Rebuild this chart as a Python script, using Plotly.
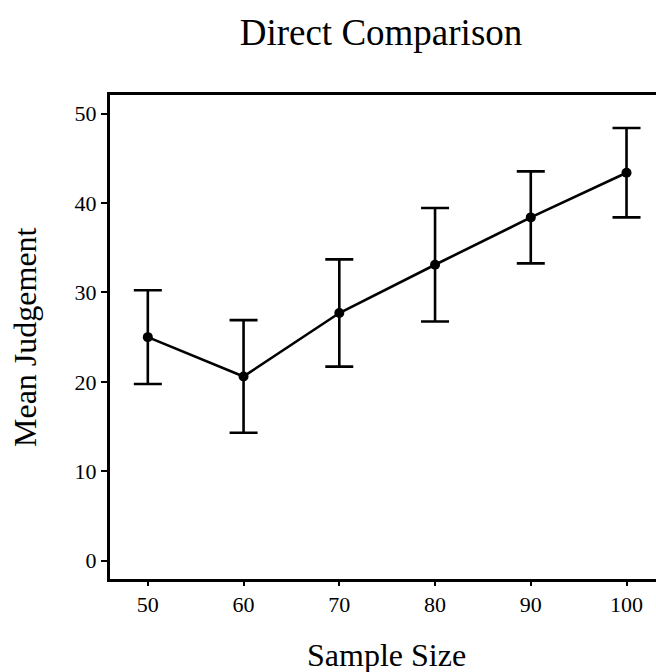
import plotly.graph_objects as go

sample_size = [50, 60, 70, 80, 90, 100]
mean_judgement = [25.0, 20.6, 27.7, 33.1, 38.4, 43.4]
error = [5.25, 6.3, 6.0, 6.35, 5.15, 5.0]
y_ticks = [0, 10, 20, 30, 40, 50]
x_ticks = [50, 60, 70, 80, 90, 100]

FONT = "Liberation Serif, Times New Roman, serif"
FIG_W = 676
PLOT_W = FIG_W - 110
PLOT_H = 672 - 95 - 93

fig = go.Figure()
fig.add_trace(go.Scatter(
    x=sample_size, y=mean_judgement,
    mode="lines+markers",
    line=dict(color="black", width=2.6),
    marker=dict(color="black", size=10),
    error_y=dict(type="data", array=error, visible=True,
                 color="black", thickness=2.6, width=14),
    showlegend=False,
))

fig.update_layout(
    width=FIG_W, height=672,
    margin=dict(l=110, r=0, t=95, b=93, autoexpand=False),
    paper_bgcolor="white", plot_bgcolor="white",
    font=dict(family=FONT, color="black", size=22),
    title=dict(text="Direct Comparison", font=dict(size=37, family=FONT, color="black"),
               x=381/FIG_W, xref="container", xanchor="center",
               y=1 - 32/672, yref="container", yanchor="middle"),
    annotations=[
        dict(text="Sample Size", xref="paper", yref="paper",
             x=(386 - 110) / PLOT_W, y=-(653 - 577) / PLOT_H,
             xanchor="center", yanchor="middle",
             showarrow=False, font=dict(size=32, family=FONT, color="black")),
        dict(text="Mean Judgement", xref="paper", yref="paper",
             x=-(110 - 25) / PLOT_W, y=0.5, xanchor="center", yanchor="middle",
             textangle=-90,
             showarrow=False, font=dict(size=32, family=FONT, color="black")),
    ],
)
fig.update_xaxes(
    range=[46.05, 46.05 + PLOT_W / 9.574], tickvals=x_ticks, ticktext=[str(v) for v in x_ticks],
    showgrid=False, zeroline=False, automargin=False,
    showline=True, linecolor="black", linewidth=3, mirror=True,
    ticks="outside", ticklen=4, tickwidth=1.5, tickcolor="black",
    tickfont=dict(size=22, family=FONT),
)
fig.update_yaxes(
    range=[-2.07, 52.10], tickvals=y_ticks, ticktext=[str(v) for v in y_ticks],
    showgrid=False, zeroline=False, automargin=False,
    showline=True, linecolor="black", linewidth=3, mirror=False,
    ticks="outside", ticklen=6, tickwidth=1.5, tickcolor="black",
    tickfont=dict(size=22, family=FONT),
)

fig.write_html(
    "out.html",
    config={"displayModeBar": False},
    post_script="document.body.style.margin='0';document.body.style.overflow='hidden';"
                "document.documentElement.style.overflow='hidden';",
)
